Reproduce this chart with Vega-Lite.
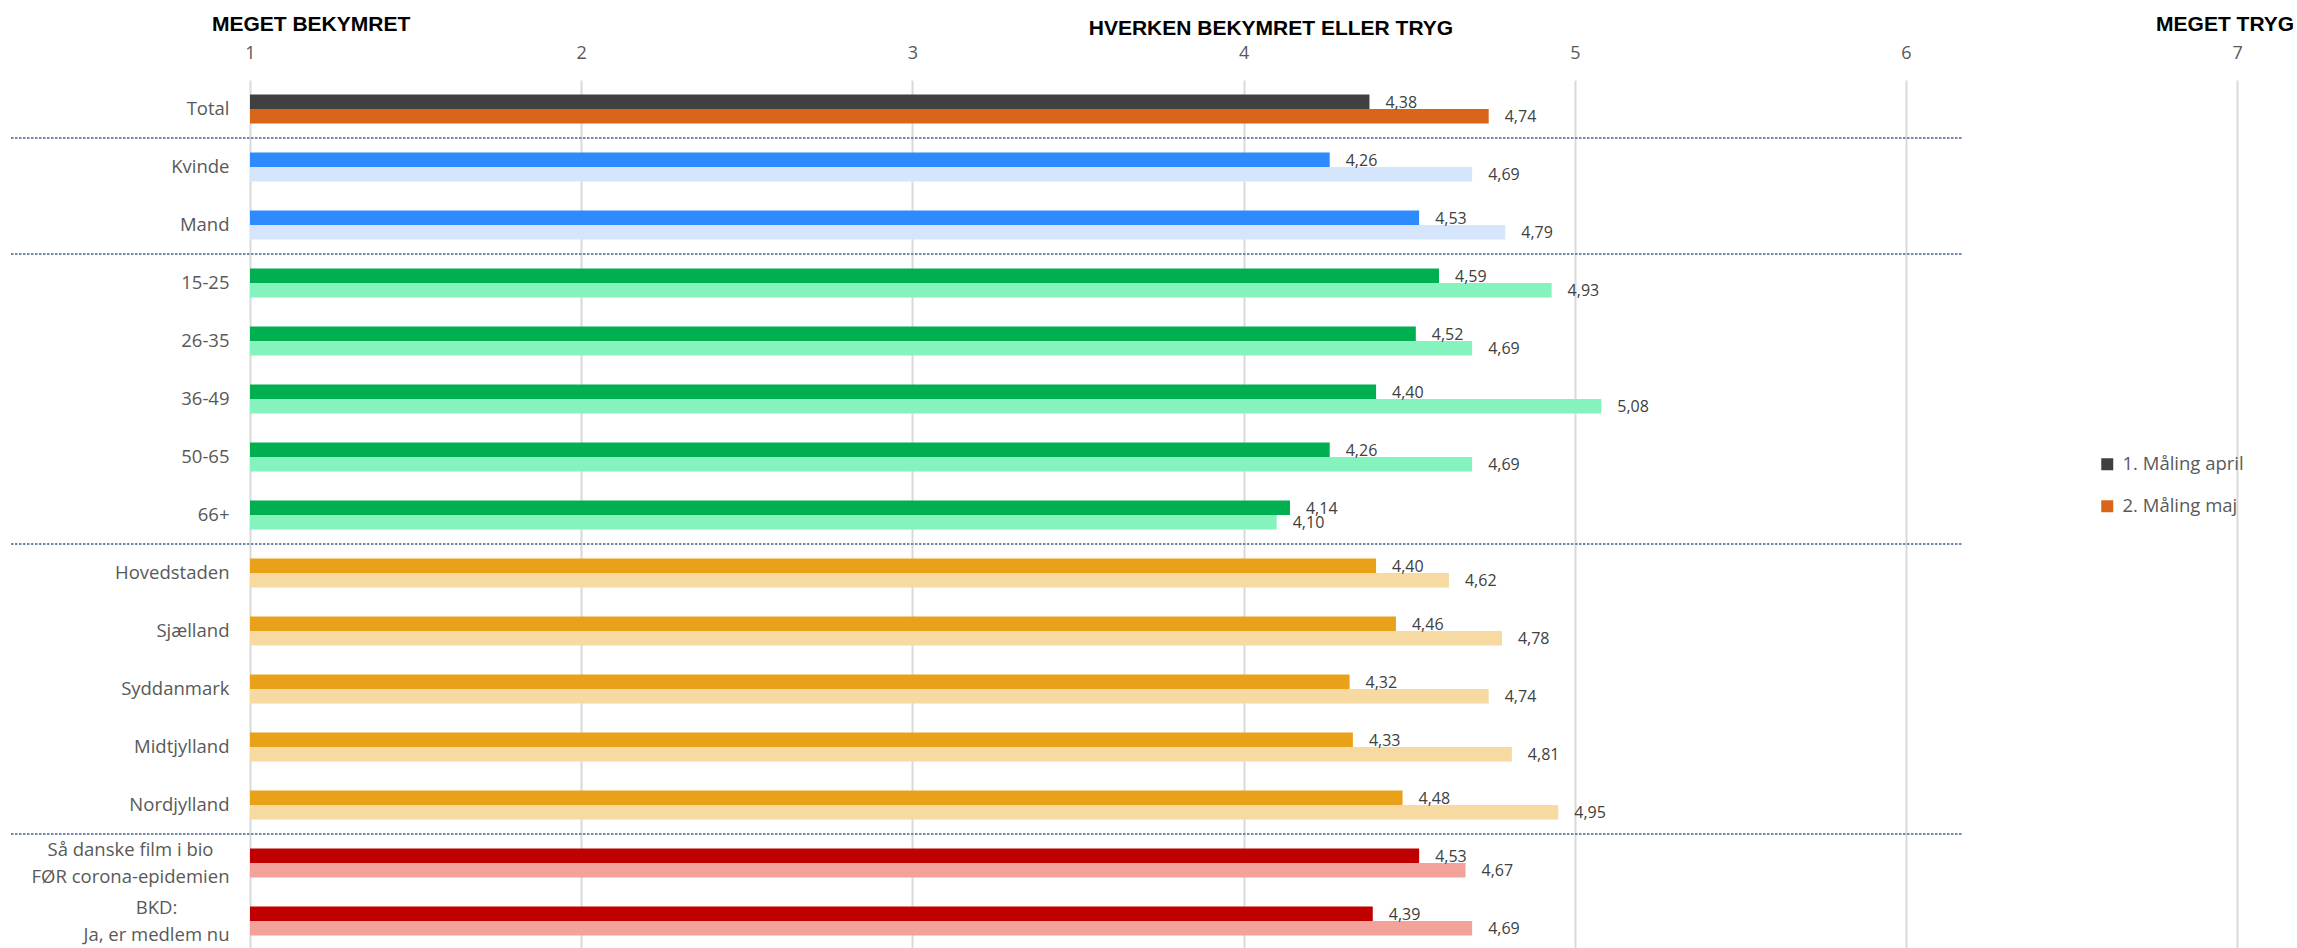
{
  "$schema": "https://vega.github.io/schema/vega-lite/v6.json",
  "width": 2286,
  "height": 870,
  "autosize": {"type": "none"},
  "padding": {"left": 11, "top": 80, "right": 0, "bottom": 0},
  "config": {
    "view": {"stroke": null},
    "font": "Open Sans",
    "locale": {"number": {"decimal": ",", "thousands": ".", "grouping": [3], "currency": ["", " kr."]}}
  },
  "data": {
    "values": [
      {"c": "Total", "g": "Total", "m": "april", "v": 4.38},
      {"c": "Total", "g": "Total", "m": "maj", "v": 4.74},
      {"c": "Kvinde", "g": "Køn", "m": "april", "v": 4.26},
      {"c": "Kvinde", "g": "Køn", "m": "maj", "v": 4.69},
      {"c": "Mand", "g": "Køn", "m": "april", "v": 4.53},
      {"c": "Mand", "g": "Køn", "m": "maj", "v": 4.79},
      {"c": "15-25", "g": "Alder", "m": "april", "v": 4.59},
      {"c": "15-25", "g": "Alder", "m": "maj", "v": 4.93},
      {"c": "26-35", "g": "Alder", "m": "april", "v": 4.52},
      {"c": "26-35", "g": "Alder", "m": "maj", "v": 4.69},
      {"c": "36-49", "g": "Alder", "m": "april", "v": 4.40},
      {"c": "36-49", "g": "Alder", "m": "maj", "v": 5.08},
      {"c": "50-65", "g": "Alder", "m": "april", "v": 4.26},
      {"c": "50-65", "g": "Alder", "m": "maj", "v": 4.69},
      {"c": "66+", "g": "Alder", "m": "april", "v": 4.14},
      {"c": "66+", "g": "Alder", "m": "maj", "v": 4.10},
      {"c": "Hovedstaden", "g": "Region", "m": "april", "v": 4.40},
      {"c": "Hovedstaden", "g": "Region", "m": "maj", "v": 4.62},
      {"c": "Sjælland", "g": "Region", "m": "april", "v": 4.46},
      {"c": "Sjælland", "g": "Region", "m": "maj", "v": 4.78},
      {"c": "Syddanmark", "g": "Region", "m": "april", "v": 4.32},
      {"c": "Syddanmark", "g": "Region", "m": "maj", "v": 4.74},
      {"c": "Midtjylland", "g": "Region", "m": "april", "v": 4.33},
      {"c": "Midtjylland", "g": "Region", "m": "maj", "v": 4.81},
      {"c": "Nordjylland", "g": "Region", "m": "april", "v": 4.48},
      {"c": "Nordjylland", "g": "Region", "m": "maj", "v": 4.95},
      {"c": "Så danske film i bio\nFØR corona-epidemien", "g": "Bio", "m": "april", "v": 4.53},
      {"c": "Så danske film i bio\nFØR corona-epidemien", "g": "Bio", "m": "maj", "v": 4.67},
      {"c": "BKD:\nJa, er medlem nu", "g": "Bio", "m": "april", "v": 4.39},
      {"c": "BKD:\nJa, er medlem nu", "g": "Bio", "m": "maj", "v": 4.69}
    ]
  },
  "transform": [{"calculate": "datum.g + '|' + datum.m", "as": "s"}],
  "layer": [
    {
      "mark": {"type": "bar"},
      "encoding": {
        "y": {
          "field": "c",
          "type": "nominal",
          "scale": {
            "domain": ["Total", "Kvinde", "Mand", "15-25", "26-35", "36-49", "50-65", "66+", "Hovedstaden", "Sjælland", "Syddanmark", "Midtjylland", "Nordjylland", "Så danske film i bio\nFØR corona-epidemien", "BKD:\nJa, er medlem nu"],
            "paddingInner": 0,
            "paddingOuter": 0
          },
          "axis": {
            "orient": "left",
            "offset": -239,
            "title": null,
            "domain": false,
            "ticks": false,
            "tickSize": 0,
            "labelFont": "Open Sans",
            "labelFontSize": 18.5,
            "labelColor": "#595959",
            "labelLimit": 0,
            "labelLineHeight": 27,
            "labelBaseline": "middle",
            "labelExpr": "split(datum.label, '\\n')",
            "labelAlign": {"condition": {"test": "indexof(datum.value, '\\n') >= 0", "value": "center"}, "value": "right"},
            "labelOffset": {"condition": {"test": "indexof(datum.value, '\\n') >= 0", "value": -13}, "value": 0},
            "labelPadding": {"condition": [{"test": "indexof(datum.value, 'BKD') == 0", "value": 94}, {"test": "indexof(datum.value, 'Så') == 0", "value": 120}], "value": 21}
          }
        },
        "x": {
          "field": "v",
          "type": "quantitative",
          "scale": {"domain": [0.27838, 7.18055], "nice": false, "zero": false},
          "axis": {
            "orient": "top",
            "values": [1, 2, 3, 4, 5, 6, 7],
            "title": null,
            "domain": false,
            "ticks": false,
            "tickSize": 0,
            "grid": true,
            "gridColor": "#d9d9d9",
            "gridWidth": 2,
            "labelFont": "Open Sans",
            "labelFontSize": 18,
            "labelColor": "#595959",
            "labelPadding": 22,
            "labelBaseline": "alphabetic",
            "labelFlush": false,
            "labelOverlap": false
          }
        },
        "x2": {"datum": 1},
        "yOffset": {"field": "m", "type": "nominal", "scale": {"domain": ["april", "maj"], "paddingInner": 0, "paddingOuter": 1.0714}},
        "color": {
          "field": "s",
          "type": "nominal",
          "scale": {
            "domain": ["Total|april", "Total|maj", "Køn|april", "Køn|maj", "Alder|april", "Alder|maj", "Region|april", "Region|maj", "Bio|april", "Bio|maj"],
            "range": ["#404040", "#d86519", "#2d8bfe", "#d5e6fc", "#00b050", "#84f3bd", "#eaa11a", "#f7d9a2", "#c00000", "#f2a298"]
          },
          "legend": {
            "values": ["Total|april", "Total|maj"],
            "labelExpr": "datum.value == 'Total|april' ? '1. Måling april' : '2. Måling maj'",
            "title": null,
            "orient": "none",
            "legendX": 2087,
            "legendY": 375,
            "symbolType": "square",
            "symbolSize": 144,
            "symbolStrokeWidth": 0,
            "labelFont": "Open Sans",
            "labelFontSize": 18.5,
            "labelColor": "#595959",
            "rowPadding": 23,
            "labelOffset": 6
          }
        }
      }
    },
    {
      "data": {"values": [{"c": "Kvinde"}, {"c": "15-25"}, {"c": "Hovedstaden"}, {"c": "Så danske film i bio\nFØR corona-epidemien"}]},
      "mark": {"type": "rule", "color": "#7288ad", "strokeWidth": 2, "strokeDash": [2.5, 1.5]},
      "encoding": {
        "y": {"field": "c", "type": "nominal", "bandPosition": 0},
        "x": {"datum": 0.27838, "type": "quantitative", "scale": {"domain": [0.27838, 7.18055], "nice": false, "zero": false}, "axis": null},
        "x2": {"datum": 6.17}
      }
    },
    {
      "mark": {"type": "text", "align": "left", "baseline": "middle", "dx": 16, "dy": 1, "font": "Open Sans", "fontSize": 16, "color": "#404040"},
      "encoding": {
        "y": {"field": "c", "type": "nominal"},
        "x": {
          "field": "v",
          "type": "quantitative",
          "scale": {"domain": [0.27838, 7.18055], "nice": false, "zero": false},
          "axis": {
            "orient": "top",
            "values": [1.183, 4.081, 6.962],
            "labelExpr": "datum.value < 2 ? 'MEGET BEKYMRET' : (datum.value < 5 ? 'HVERKEN BEKYMRET ELLER TRYG' : 'MEGET TRYG')",
            "title": null,
            "domain": false,
            "ticks": false,
            "tickSize": 0,
            "grid": false,
            "labelFont": "Liberation Sans",
            "labelFontWeight": "bold",
            "labelFontSize": 21,
            "labelColor": "#000000",
            "labelBaseline": "alphabetic",
            "labelPadding": {"condition": {"test": "datum.value > 3 && datum.value < 5", "value": 46}, "value": 50},
            "labelFlush": false,
            "labelOverlap": false,
            "labelLimit": 0,
            "labelBound": false
          }
        },
        "yOffset": {"field": "m", "type": "nominal", "scale": {"domain": ["april", "maj"], "paddingInner": 0, "paddingOuter": 1.0714}},
        "text": {"field": "v", "type": "quantitative", "format": ".2f"}
      }
    }
  ],
  "resolve": {"scale": {"x": "independent"}}
}
